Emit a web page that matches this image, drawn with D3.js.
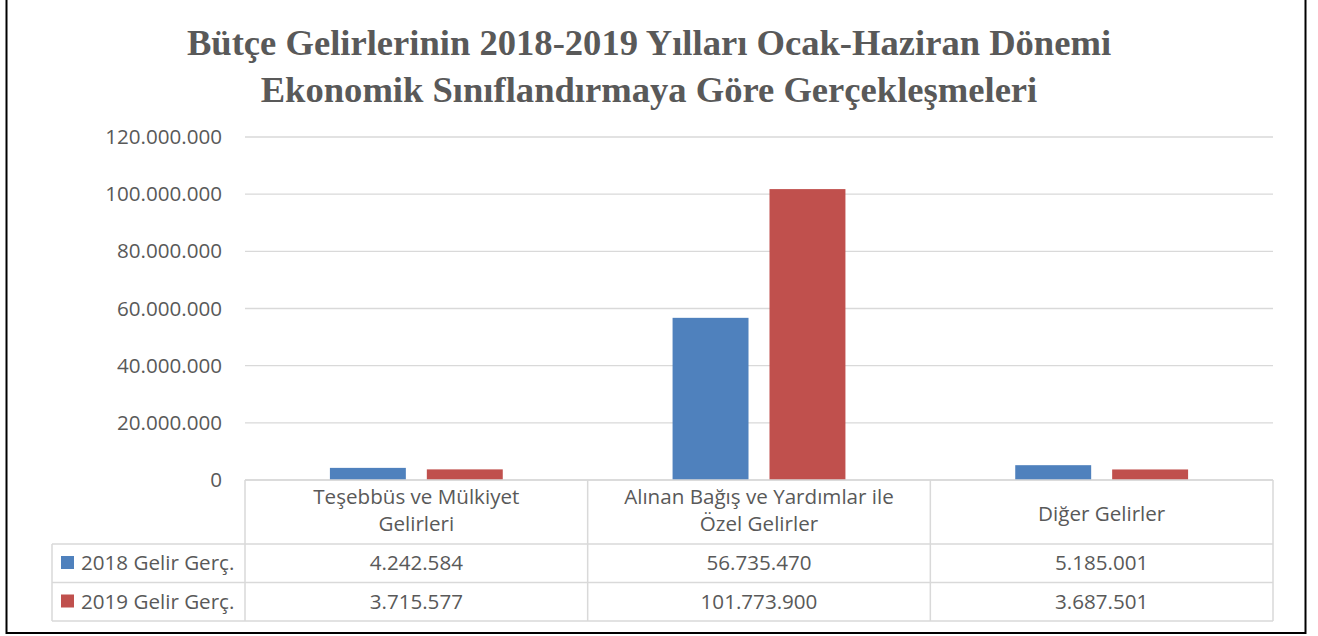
<!DOCTYPE html>
<html>
<head>
<meta charset="utf-8">
<script src="https://cdn.jsdelivr.net/npm/d3@7"></script>
<style>
  body { margin: 0; background: #fff; }
  svg { display: block; }
</style>
</head>
<body>
<div id="chart"></div>
<script>
// chart data
const categories = [["Teşebbüs ve Mülkiyet", "Gelirleri"], ["Alınan Bağış ve Yardımlar ile", "Özel Gelirler"], ["Diğer Gelirler"]];
const seriesNames = ["2018 Gelir Gerç.", "2019 Gelir Gerç."];
const values2018 = [4242584, 56735470, 5185001];
const values2019 = [3715577, 101773900, 3687501];
const yTicks = [0, 20000000, 40000000, 60000000, 80000000, 100000000, 120000000];
const colors = ["#4F81BD", "#C0504D"];

const width = 1318, height = 636;
const textColor = "#595959";
const gridColor = "#d9d9d9";
const fontFam = "'Open Sans', 'Noto Sans', sans-serif";
const fontSize = 20.6;

const svg = d3.select("#chart").append("svg")
    .attr("width", width)
    .attr("height", height);

// outer frame
svg.append("rect")
    .attr("x", 6.5).attr("y", -2)
    .attr("width", 1299).attr("height", 635)
    .attr("fill", "none").attr("stroke", "#000").attr("stroke-width", 2);

// title
const title = svg.append("text")
    .attr("text-anchor", "middle")
    .attr("font-family", "'Liberation Serif', 'Times New Roman', serif")
    .attr("font-weight", "bold")
    .attr("font-size", 36.6)
    .attr("fill", textColor);
title.append("tspan").attr("x", 649).attr("y", 55).text("Bütçe Gelirlerinin 2018-2019 Yılları Ocak-Haziran Dönemi");
title.append("tspan").attr("x", 649).attr("y", 102).text("Ekonomik Sınıflandırmaya Göre Gerçekleşmeleri");

const plotLeft = 245, plotRight = 1273, plotTop = 137, plotBottom = 480;

const x = d3.scaleBand()
    .domain(d3.range(categories.length))
    .range([plotLeft, plotRight]);

const xInner = d3.scaleBand()
    .domain([0, 1])
    .range([0, x.bandwidth()])
    .paddingInner(0.2165)
    .paddingOuter(0.876);

const y = d3.scaleLinear()
    .domain([0, 120000000])
    .range([plotBottom, plotTop]);

const fmt = v => d3.format(",")(v).replace(/,/g, ".");

// gridlines
svg.append("g").selectAll("line")
    .data(yTicks)
    .join("line")
    .attr("x1", plotLeft).attr("x2", plotRight)
    .attr("y1", d => y(d)).attr("y2", d => y(d))
    .attr("stroke", gridColor).attr("stroke-width", 1.3);

// y axis labels
const yAxis = svg.append("g")
    .attr("transform", `translate(${plotLeft},0)`)
    .call(d3.axisLeft(y).tickValues(yTicks).tickFormat(fmt).tickSize(0).tickPadding(23));
yAxis.select(".domain").remove();
yAxis.selectAll("text")
    .attr("font-family", fontFam)
    .attr("font-size", fontSize)
    .attr("fill", textColor);

// bars
const allSeries = [values2018, values2019];
allSeries.forEach((vals, s) => {
    svg.append("g").selectAll("rect")
        .data(vals)
        .join("rect")
        .attr("x", (d, i) => x(i) + xInner(s))
        .attr("width", xInner.bandwidth())
        .attr("y", d => y(d))
        .attr("height", d => y(0) - y(d))
        .attr("fill", colors[s]);
});

// data table
const rowTop = plotBottom, headerBottom = 544, rowH = 38.5;
const tableLeft = 52;
const tbl = svg.append("g")
    .attr("stroke", gridColor).attr("stroke-width", 1.5).attr("fill", "none");
tbl.append("line").attr("x1", plotLeft).attr("x2", plotRight).attr("y1", rowTop).attr("y2", rowTop);
[0, 1, 2].forEach(k => {
    tbl.append("line").attr("x1", tableLeft).attr("x2", plotRight)
        .attr("y1", headerBottom + k * rowH).attr("y2", headerBottom + k * rowH);
});
d3.range(categories.length + 1).forEach(i => {
    const xx = i < categories.length ? x(i) : plotRight;
    tbl.append("line").attr("x1", xx).attr("x2", xx).attr("y1", rowTop).attr("y2", headerBottom + 2 * rowH);
});
tbl.append("line").attr("x1", tableLeft).attr("x2", tableLeft)
    .attr("y1", headerBottom).attr("y2", headerBottom + 2 * rowH);

// category labels
categories.forEach((lines, i) => {
    const cy = 514 - (lines.length - 1) * 4;
    const t = svg.append("text")
        .attr("text-anchor", "middle")
        .attr("font-family", fontFam).attr("font-size", fontSize)
        .attr("fill", textColor);
    lines.forEach((ln, j) => {
        t.append("tspan")
            .attr("x", x(i) + x.bandwidth() / 2)
            .attr("y", cy + 7 + (j - (lines.length - 1) / 2) * 27)
            .text(ln);
    });
});

// table rows
allSeries.forEach((vals, s) => {
    const ry = headerBottom + s * rowH;
    svg.append("rect")
        .attr("x", 61).attr("y", ry + 12).attr("width", 13).attr("height", 13)
        .attr("fill", colors[s]);
    svg.append("text")
        .attr("x", 81).attr("y", ry + rowH / 2 + 7)
        .attr("font-family", fontFam).attr("font-size", fontSize)
        .attr("fill", textColor)
        .text(seriesNames[s]);
    vals.forEach((v, i) => {
        svg.append("text")
            .attr("x", x(i) + x.bandwidth() / 2).attr("y", ry + rowH / 2 + 7)
            .attr("text-anchor", "middle")
            .attr("font-family", fontFam).attr("font-size", fontSize)
            .attr("fill", textColor)
            .text(fmt(v));
    });
});
</script>
</body>
</html>
